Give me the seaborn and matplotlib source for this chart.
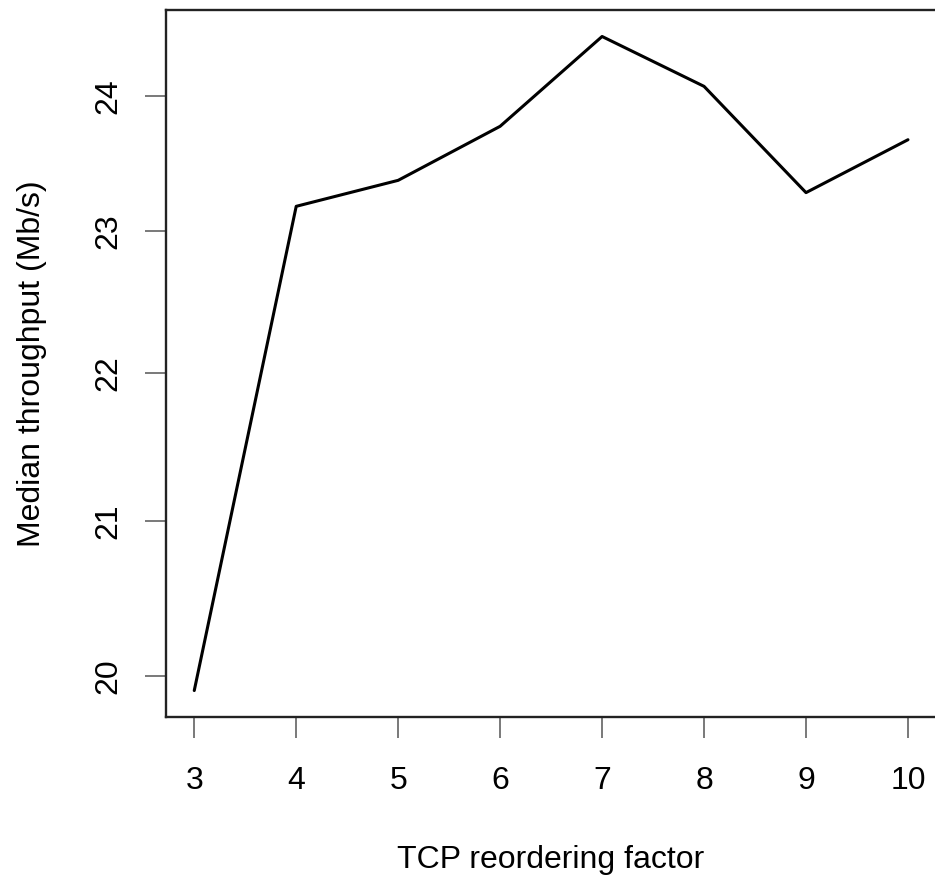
import matplotlib
matplotlib.use("Agg")
import matplotlib.pyplot as plt
from matplotlib.ticker import NullLocator
import numpy as np
import seaborn as sns

# ---------------  Data  ------------
reorder_factor = [3, 4, 5, 6, 7, 8, 9, 10]
median_tput = [19.91, 23.18, 23.37, 23.77, 24.45, 24.07, 23.28, 23.67]
y_ticks = [20, 21, 22, 23, 24]

sns.set_style("white")
plt.rcParams['font.family'] = ['Liberation Sans', 'DejaVu Sans']

# ---------------  Set up the figure  ------------
fig = plt.figure(figsize=(9.35, 8.8), dpi=100)
# the right border of the box sits just past the image edge, as in the original
ax = fig.add_axes([0.17722, 0.18557, 0.8244, 0.8027])

sns.lineplot(x=reorder_factor, y=median_tput, color='black', linewidth=2.2, ax=ax)

# R-style axis padding (4% of range, in log space for y)
ax.set_yscale('log')
xr = max(reorder_factor) - min(reorder_factor)
ax.set_xlim(min(reorder_factor) - 0.04 * xr, max(reorder_factor) + 0.04 * xr)
lo, hi = np.log(min(median_tput)), np.log(max(median_tput))
ax.set_ylim(np.exp(lo - 0.04 * (hi - lo)), np.exp(hi + 0.04 * (hi - lo)))

ax.set_xticks(reorder_factor)
ax.set_xticklabels([str(v) for v in reorder_factor])
ax.set_yticks(y_ticks)
ax.set_yticklabels([str(v) for v in y_ticks])
ax.yaxis.set_minor_locator(NullLocator())

for side in ['left', 'bottom', 'top', 'right']:
    ax.spines[side].set_color('#222222')
    ax.spines[side].set_linewidth(1.7)

ax.tick_params(axis='both', which='major', direction='out', length=15, width=1.1,
               color='#555555', labelsize=23, labelcolor='black',
               bottom=True, left=True, top=False, right=False)
ax.tick_params(axis='x', pad=20.5)
ax.tick_params(axis='y', pad=15.3)
plt.setp(ax.get_yticklabels(), rotation=90, va='center')

ax.set_xlabel('TCP reordering factor', fontsize=23, labelpad=35, color='black')
ax.set_ylabel('Median throughput (Mb/s)', fontsize=23, labelpad=33.5, color='black')

fig.savefig('out.png', dpi=100)
